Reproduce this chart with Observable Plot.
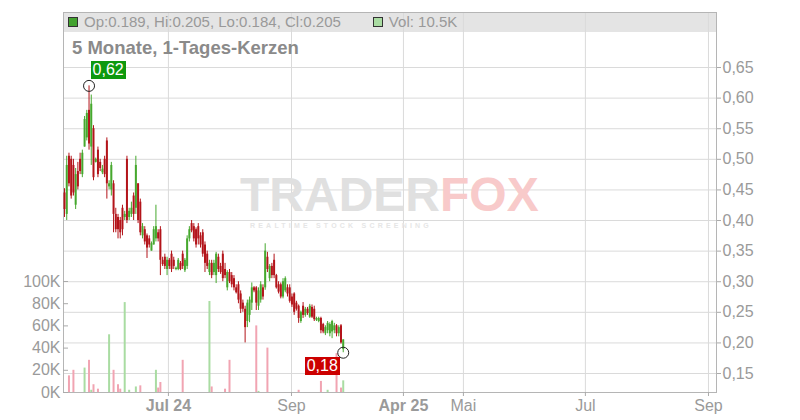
<!DOCTYPE html>
<html><head><meta charset="utf-8">
<script src="https://cdn.jsdelivr.net/npm/d3@7"></script>
<script src="https://cdn.jsdelivr.net/npm/@observablehq/plot@0.6"></script>
<style>
body{margin:0;background:#fff;font-family:"Liberation Sans",Arial,sans-serif;}
#wrap{position:relative;width:800px;height:420px;overflow:hidden;}
#wrap > *{position:absolute;}
svg{left:0;top:0;}
.wm1{font-weight:bold;font-size:48px;line-height:40px;height:40px;letter-spacing:0px;white-space:nowrap;}
.wm2{font-weight:bold;font-size:7px;line-height:8px;letter-spacing:3.2px;color:#e6e6e6;margin-top:7px;margin-left:10px;white-space:nowrap;}
</style></head><body><div id="wrap"></div>
<script>
// ---- data (daily candles, index = trading day) ----
const opens  = [.445,.41,.505,.50,.49,.425,.48,.50,.475,.52,.535,.58,.52,.55,.495,.515,.495,.478,.50,.53,
 .455,.45,.46,.41,.405,.40,.42,.405,.50,.405,.41,.44,.42,.46,.43,.375,.385,.375,.37,.35,
 .36,.37,.38,.385,.335,.34,.32,.335,.345,.335,.32,.32,.33,.345,.318,.325,.37,.395,.39,.385,
 .39,.375,.38,.36,.345,.315,.33,.315,.31,.34,.325,.345,.32,.29,.315,.31,.305,.29,.295,.28,
 .265,.255,.235,.245,.265,.29,.29,.26,.27,.29,.29,.34,.305,.325,.335,.31,.295,.295,.275,.285,
 .29,.29,.275,.28,.265,.26,.235,.26,.245,.255,.242,.258,.255,.237,.235,.24,.23,.215,.22,.215,
 .218,.22,.228,.215,.228,.189];
const highs  = [.452,.505,.51,.505,.50,.485,.495,.51,.515,.57,.58,.62,.605,.555,.502,.52,.50,.49,.505,.535,
 .465,.495,.465,.42,.41,.405,.425,.415,.505,.42,.43,.445,.505,.46,.435,.395,.39,.378,.375,.365,
 .39,.425,.385,.39,.34,.345,.34,.338,.35,.34,.324,.338,.333,.35,.338,.375,.39,.40,.395,.388,
 .395,.38,.385,.365,.35,.335,.335,.335,.348,.345,.33,.35,.33,.318,.32,.315,.31,.295,.30,.285,
 .27,.26,.27,.275,.298,.292,.292,.29,.30,.295,.362,.348,.328,.33,.345,.312,.30,.298,.305,.308,
 .295,.295,.28,.282,.268,.262,.252,.266,.258,.258,.263,.262,.26,.242,.242,.242,.232,.228,.235,.233,
 .237,.232,.23,.228,.23,.205];
const lows   = [.405,.40,.455,.435,.44,.418,.45,.475,.47,.52,.53,.515,.49,.465,.494,.47,.48,.475,.47,.435,
 .45,.44,.38,.38,.37,.37,.375,.40,.395,.40,.405,.40,.41,.395,.375,.37,.36,.338,.355,.35,
 .36,.365,.365,.31,.325,.32,.31,.32,.315,.32,.318,.318,.318,.32,.315,.32,.365,.38,.365,.355,
 .36,.355,.34,.315,.32,.31,.305,.31,.297,.315,.312,.30,.305,.285,.297,.29,.285,.28,.264,.248,
 .25,.20,.225,.233,.253,.282,.253,.253,.265,.27,.286,.315,.30,.305,.305,.288,.28,.272,.272,.282,
 .275,.265,.258,.245,.252,.232,.232,.24,.242,.245,.24,.24,.235,.235,.233,.215,.215,.212,.215,.21,
 .207,.215,.21,.21,.198,.184];
const closes = [.418,.49,.46,.44,.445,.475,.455,.48,.51,.565,.575,.525,.59,.47,.50,.475,.485,.484,.475,.46,
 .46,.49,.41,.385,.385,.38,.385,.41,.40,.415,.42,.41,.49,.40,.38,.39,.365,.355,.36,.362,
 .385,.39,.37,.335,.328,.325,.335,.325,.32,.325,.322,.335,.32,.325,.335,.37,.385,.383,.37,.36,
 .37,.36,.345,.33,.325,.33,.31,.33,.345,.32,.315,.305,.31,.315,.30,.295,.29,.282,.27,.255,
 .255,.225,.265,.27,.29,.285,.265,.285,.295,.275,.35,.32,.325,.31,.31,.29,.283,.275,.30,.305,
 .28,.268,.262,.25,.255,.24,.25,.245,.255,.248,.26,.242,.238,.24,.24,.22,.218,.225,.232,.23,
 .235,.228,.215,.225,.20,.205];
// volume (thousand shares) on the days that have visible bars
const volDay = [2,4,9,11,12,13,15,20,22,24,25,27,29,32,34,41,42,43,53,65,66,72,74,86,87,91,105,115,118,122,124,125];
const volK   = [15,20,22,29,2,7,3,52,20,7,3,81,2,5,6,20,4,9,29,82,5,3,29,60,1,40,2,10,2,35,4,10.5];

const priceTicks = [0.15,0.20,0.25,0.30,0.35,0.40,0.45,0.50,0.55,0.60,0.65];
const volTicks = [0,20,40,60,80,100];
const xTickPos = [46.6,101.8,152,178.9,233.6,288.8];
const xTickLabels = ["Jul 24","Sep","Apr 25","Mai","Jul","Sep"];
const xTickBold = [true,false,true,false,false,false];
const legendOHLC = "Op:0.189, Hi:0.205, Lo:0.184, Cl:0.205";
const legendVol = "Vol: 10.5K";
const subtitle = "5 Monate, 1-Tages-Kerzen";
const watermark = ["TRADER","FOX","REALTIME STOCK SCREENING"];

// ---- tables ----
const candles = opens.map((o,i)=>({i,o,h:highs[i],l:lows[i],c:closes[i],up:closes[i]>=o}));
const volumes = volDay.map((d,k)=>({i:d,v:volK[k]*1000,up:candles[d].up}));
const up = candles.filter(d=>d.up), down = candles.filter(d=>!d.up);
const GREEN="#46a82e", RED="#b3141a";

const W=800,H=420;
const M={marginLeft:63,marginRight:84,marginTop:12,marginBottom:28};
const X={type:"linear",domain:[-0.45,292.4],axis:null,label:null};
const YP={domain:[0.119,0.7399],axis:null,label:null};
const YV={domain:[0,342342],axis:null,label:null};
const font='"Liberation Sans",Arial,sans-serif';
const st={background:"transparent",color:"#999",fontFamily:font,fontSize:"16px",overflow:"visible"};
const fmtP=d=>d.toFixed(2).replace(".",",");
const lab=d=>xTickLabels[xTickPos.indexOf(d)];

const wrap=document.getElementById("wrap");
function el(tag,css,text,parent){const e=document.createElement(tag);Object.assign(e.style,css);if(text!=null)e.textContent=text;(parent||wrap).appendChild(e);return e;}

// legend band
el("div",{left:"63px",top:"12px",width:"653px",height:"20px",background:"#e4e4e4"});

// layer 1: grid, frame, axes
const p1=Plot.plot({width:W,height:H,...M,x:X,y:YP,style:st,marks:[
  Plot.ruleY(priceTicks,{stroke:"#dadada"}),
  Plot.ruleX(xTickPos,{stroke:"#dadada"}),
  Plot.frame({stroke:"#b5b5b5"}),
  Plot.axisY({anchor:"right",label:null,ticks:priceTicks,tickFormat:fmtP,tickSize:4,tickPadding:2,fontSize:16,fill:"#9a9a9a",stroke:"#aaa"}),
  Plot.axisX({label:null,ticks:xTickPos.filter((d,k)=>xTickBold[k]),tickFormat:lab,tickSize:4,tickPadding:3,fontSize:16,fontWeight:"bold",fill:"#9a9a9a",stroke:"#aaa"}),
  Plot.axisX({label:null,ticks:xTickPos.filter((d,k)=>!xTickBold[k]),tickFormat:lab,tickSize:4,tickPadding:3,fontSize:16,fill:"#9a9a9a",stroke:"#aaa"})
]});
wrap.appendChild(p1);

// watermark
const wm=el("div",{left:"240px",top:"175px",fontFamily:font});
const w1=el("div",{},null,wm); w1.className="wm1";
el("span",{color:"#e0e0e0"},watermark[0],w1);
el("span",{color:"#f8caca"},watermark[1],w1);
const w2=el("div",{},watermark[2],wm); w2.className="wm2";

// layer 2: volume
const p2=Plot.plot({width:W,height:H,...M,x:X,y:YV,style:st,marks:[
  Plot.ruleX(volumes.filter(d=>d.up),{x:"i",y1:0,y2:"v",stroke:"#a9dca2",strokeWidth:2}),
  Plot.ruleX(volumes.filter(d=>!d.up),{x:"i",y1:0,y2:"v",stroke:"#f1a4b2",strokeWidth:2}),
  Plot.axisY({anchor:"left",label:null,ticks:volTicks.map(d=>d*1000),tickFormat:d=>d/1000+"K",tickSize:-5,tickPadding:8,fontSize:16,fill:"#9a9a9a",stroke:"#aaa"})
]});
wrap.appendChild(p2);

// layer 3: candles
const hiI=d3.maxIndex(highs), loI=d3.minIndex(lows);
const p3=Plot.plot({width:W,height:H,...M,x:X,y:YP,style:st,marks:[
  Plot.ruleX(up,{x:"i",y1:"l",y2:"h",stroke:GREEN,strokeWidth:1}),
  Plot.ruleX(down,{x:"i",y1:"l",y2:"h",stroke:RED,strokeWidth:1}),
  Plot.ruleX(up,{x:"i",y1:"o",y2:"c",stroke:GREEN,strokeWidth:2}),
  Plot.ruleX(down,{x:"i",y1:"o",y2:"c",stroke:RED,strokeWidth:2}),
  Plot.dot([{i:hiI,p:highs[hiI]},{i:loI,p:lows[loI]}],{x:"i",y:"p",r:5.5,stroke:"#222",fill:"none",strokeWidth:1})
]});
wrap.appendChild(p3);

const sx=p3.scale("x"), sy=p3.scale("y");
const tagCss=bg=>({background:bg,color:"#fff",fontFamily:font,fontSize:"16px",lineHeight:"18px",padding:"0 2px",height:"18px"});
const hx=sx.apply(hiI), hy=sy.apply(highs[hiI]);
el("div",{...tagCss("#0e990e"),left:(hx+2)+"px",top:(hy-24)+"px"},fmtP(highs[hiI]));
const lx=sx.apply(loI), ly=sy.apply(lows[loI]);
const lt=el("div",{...tagCss("#cc0000"),left:"0px",top:(ly+5)+"px"},fmtP(lows[loI]));
lt.style.left=(lx-3-lt.offsetWidth)+"px";

// legend
const lg=el("div",{left:"68px",top:"12px",fontFamily:font,fontSize:"15px",lineHeight:"20px",color:"#999",whiteSpace:"nowrap"});
const sq={display:"inline-block",width:"8px",height:"8px",border:"1px solid #333",verticalAlign:"0px"};
el("span",{...sq,background:"#43a22f",marginRight:"6px"},null,lg);
el("span",{},legendOHLC,lg);
el("span",{...sq,background:"#a9dca2",margin:"0 6px 0 32px"},null,lg);
el("span",{},legendVol,lg);

el("div",{left:"72px",top:"38px",fontFamily:font,fontWeight:"bold",fontSize:"18.5px",lineHeight:"20px",color:"#8a8a8a"},subtitle);
</script></body></html>
